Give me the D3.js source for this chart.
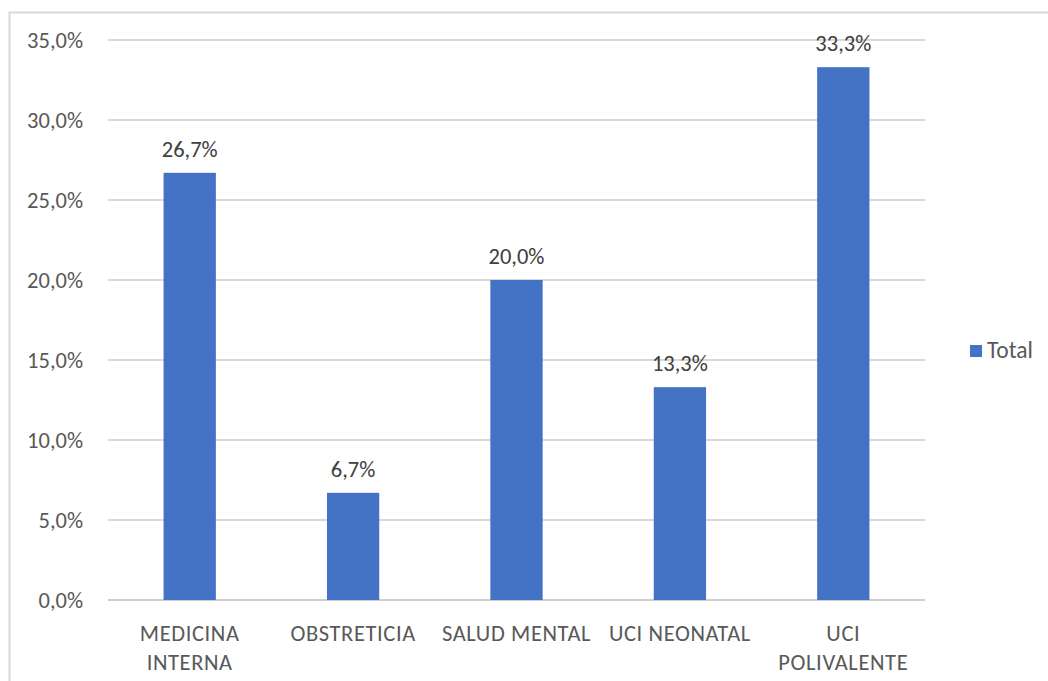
<!DOCTYPE html>
<html><head><meta charset="utf-8">
<script src="https://cdn.jsdelivr.net/npm/d3@7"></script>
<style>body{margin:0;background:#fff}svg{display:block}</style>
</head><body>
<svg id="c" width="1048" height="681"></svg>
<script>
const categories = [["MEDICINA","INTERNA"],["OBSTRETICIA"],["SALUD MENTAL"],["UCI NEONATAL"],["UCI","POLIVALENTE"]];
const values = [26.7, 6.7, 20.0, 13.3, 33.3];
const yTicks = [0,5,10,15,20,25,30,35];
const seriesName = "Total";

(function(){
const svg = d3.select("#c");
const font = "Calibri, Carlito, 'Liberation Sans', 'DejaVu Sans', sans-serif";
const fs = 22.5;
svg.append("rect").attr("x",9.5).attr("y",12.5).attr("width",1100).attr("height",700)
  .attr("fill","none").attr("stroke","#d9d9d9").attr("stroke-width",2);

const pL=108, pR=925, pT=40, pB=600;
const x = d3.scaleBand().domain(d3.range(values.length)).range([pL,pR]).paddingInner(0.68).paddingOuter(0.34);
const y = d3.scaleLinear().domain([0,35]).range([pB,pT]);
const fmt = v => v.toFixed(1).replace(".",",")+"%";

svg.append("g").selectAll("line").data(yTicks).join("line")
  .attr("x1",pL).attr("x2",pR).attr("y1",d=>y(d)).attr("y2",d=>y(d))
  .attr("stroke",d=>d===0?"#cfcfcf":"#d9d9d9").attr("stroke-width",2);

const yAxis = d3.axisLeft(y).tickValues(yTicks).tickFormat(fmt).tickSize(0).tickPadding(0);
const ga = svg.append("g").attr("transform",`translate(${83},0)`).call(yAxis);
ga.select(".domain").remove();
ga.selectAll("text").attr("font-family",font).attr("font-size",fs).attr("fill","#595959").attr("dy","0.35em");

svg.append("g").selectAll("rect").data(values).join("rect")
  .attr("x",(d,i)=>x(i)).attr("width",x.bandwidth())
  .attr("y",d=>y(d)).attr("height",d=>pB-y(d)).attr("fill","#4472c4");

svg.append("g").selectAll("text").data(values).join("text")
  .attr("x",(d,i)=>x(i)+x.bandwidth()/2).attr("y",d=>y(d)-16)
  .attr("text-anchor","middle").attr("font-family",font).attr("font-size",fs).attr("fill","#404040")
  .text(fmt);

const cl = svg.append("g").selectAll("text").data(categories).join("text")
  .attr("x",(d,i)=>x(i)+x.bandwidth()/2).attr("y",641)
  .attr("text-anchor","middle").attr("font-family",font).attr("font-size",fs).attr("fill","#595959")
  .attr("letter-spacing",0.6);
cl.each(function(d,i){
  const t=d3.select(this);
  d.forEach((s,j)=>t.append("tspan").attr("x",x(i)+x.bandwidth()/2).attr("dy",j?29:0).text(s));
});

svg.append("rect").attr("x",970).attr("y",345).attr("width",12).attr("height",12).attr("fill","#4472c4");
svg.append("text").attr("x",987).attr("y",358).attr("font-family",font).attr("font-size",fs+1).attr("fill","#595959").text(seriesName);
})();
</script>
</body></html>
